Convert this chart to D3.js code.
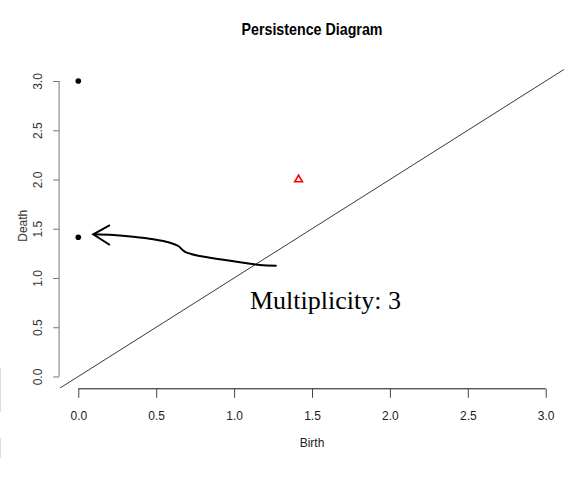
<!DOCTYPE html>
<html>
<head>
<meta charset="utf-8">
<script src="https://cdn.jsdelivr.net/npm/d3@7"></script>
<style>
  body { margin: 0; background: #fff; }
  svg { display: block; }
</style>
</head>
<body>
<svg id="chart"></svg>
<script>
// Persistence diagram data
const birthTicks = [0, 0.5, 1, 1.5, 2, 2.5, 3];
const deathTicks = [0, 0.5, 1, 1.5, 2, 2.5, 3];

// dimension 0 features (black dots)
const dim0 = [
  { birth: 0, death: 3.0 },
  { birth: 0, death: 1.414 }
];
// dimension 1 features (red triangles)
const dim1 = [
  { birth: 1.414, death: 2.0 }
];

// hand-drawn arrow annotation, in data units
const arrowPath = [
  [0.096, 1.444], [0.225, 1.437], [0.353, 1.419], [0.481, 1.393],
  [0.589, 1.358], [0.642, 1.325], [0.670, 1.284], [0.696, 1.257],
  [0.781, 1.223], [0.909, 1.190], [1.059, 1.155], [1.166, 1.132],
  [1.273, 1.125]
];
const arrowHead = [[0.203, 1.538], [0.096, 1.444], [0.203, 1.335]];
const noteText = "Multiplicity: 3";
const notePos = [1.102, 0.685];

const W = 572, H = 485;
const plot = { left: 59.6, right: 564.4, top: 69.2, bottom: 388.3 };

const svg = d3.select("#chart").attr("width", W).attr("height", H);

// R style: 4% padding around [0, 3]
const xScale = d3.scaleLinear().domain([-0.12, 3.12]).range([plot.left, plot.right]);
const yScale = d3.scaleLinear().domain([-0.12, 3.12]).range([plot.bottom, plot.top]);

const sans = "'Liberation Sans', Arial, sans-serif";

// scan artifacts at left edge
svg.append("line").attr("x1", 0.5).attr("x2", 0.5).attr("y1", 368).attr("y2", 412)
   .attr("stroke", "#ddd");
svg.append("line").attr("x1", 0.5).attr("x2", 0.5).attr("y1", 438).attr("y2", 458)
   .attr("stroke", "#ddd");

// title (condensed look)
svg.append("text")
   .attr("x", (plot.left + plot.right) / 2)
   .attr("y", 35)
   .attr("text-anchor", "middle")
   .attr("font-family", sans)
   .attr("font-weight", "bold")
   .attr("font-size", 17)
   .attr("textLength", 141)
   .attr("lengthAdjust", "spacingAndGlyphs")
   .text("Persistence Diagram");

// x axis
const xAxis = svg.append("g")
   .attr("transform", `translate(0,${plot.bottom + 0.5})`)
   .call(d3.axisBottom(xScale).tickValues(birthTicks).tickSize(9).tickPadding(22)
           .tickFormat(d3.format(".1f")));
xAxis.select(".domain").attr("d", `M${xScale(0)},0H${xScale(3)}`).attr("stroke", "#111");
xAxis.selectAll(".tick line").attr("stroke", "#444");
xAxis.selectAll(".tick text")
   .attr("font-family", sans).attr("font-size", 12).attr("fill", "#222")
   .attr("dy", 0).attr("y", 31);

// y axis
const yAxis = svg.append("g")
   .attr("transform", `translate(${plot.left - 0.5},0)`)
   .call(d3.axisLeft(yScale).tickValues(deathTicks).tickSize(6)
           .tickFormat(d3.format(".1f")));
yAxis.select(".domain").attr("d", `M0,${yScale(0)}V${yScale(3)}`).attr("stroke", "#777");
yAxis.selectAll(".tick line").attr("stroke", "#777");
yAxis.selectAll(".tick text")
   .attr("font-family", sans).attr("font-size", 12).attr("fill", "#333")
   .attr("x", null).attr("dy", null)
   .attr("text-anchor", "middle")
   .attr("transform", "translate(-17,0) rotate(-90)");

// axis titles
svg.append("text")
   .attr("x", (plot.left + plot.right) / 2)
   .attr("y", 447)
   .attr("text-anchor", "middle")
   .attr("font-family", sans).attr("font-size", 12).attr("fill", "#222")
   .text("Birth");
svg.append("text")
   .attr("transform", `translate(26.5,${(plot.top + plot.bottom) / 2 - 3}) rotate(-90)`)
   .attr("text-anchor", "middle")
   .attr("font-family", sans).attr("font-size", 12).attr("fill", "#333")
   .text("Death");

// diagonal
svg.append("clipPath").attr("id", "clip")
   .append("rect")
   .attr("x", plot.left).attr("y", plot.top)
   .attr("width", plot.right - plot.left).attr("height", plot.bottom - plot.top);
svg.append("line")
   .attr("clip-path", "url(#clip)")
   .attr("x1", xScale(-0.12)).attr("y1", yScale(-0.12))
   .attr("x2", xScale(3.12)).attr("y2", yScale(3.12))
   .attr("stroke", "#222").attr("stroke-width", 0.9);

// points
svg.selectAll(".dim0")
   .data(dim0)
   .enter()
   .append("circle")
   .attr("class", "dim0")
   .attr("cx", d => xScale(d.birth))
   .attr("cy", d => yScale(d.death))
   .attr("r", 2.8)
   .attr("fill", "#000");

const tri = d3.symbol().type(d3.symbolTriangle).size(26);
svg.selectAll(".dim1")
   .data(dim1)
   .enter()
   .append("path")
   .attr("class", "dim1")
   .attr("d", tri)
   .attr("transform", d => `translate(${xScale(d.birth)},${yScale(d.death)})`)
   .attr("fill", "none")
   .attr("stroke", "#ff0000")
   .attr("stroke-width", 1.6);

// arrow annotation
const line = d3.line()
   .x(d => xScale(d[0]))
   .y(d => yScale(d[1]))
   .curve(d3.curveCatmullRom);
svg.append("path")
   .attr("d", line(arrowPath))
   .attr("fill", "none").attr("stroke", "#000").attr("stroke-width", 2);
svg.append("path")
   .attr("d", d3.line().x(d => xScale(d[0])).y(d => yScale(d[1]))(arrowHead))
   .attr("fill", "none").attr("stroke", "#000").attr("stroke-width", 2);

svg.append("text")
   .attr("x", xScale(notePos[0]))
   .attr("y", yScale(notePos[1]))
   .attr("font-family", "'Liberation Serif', 'Times New Roman', serif")
   .attr("font-size", 26)
   .text(noteText);
</script>
</body>
</html>
